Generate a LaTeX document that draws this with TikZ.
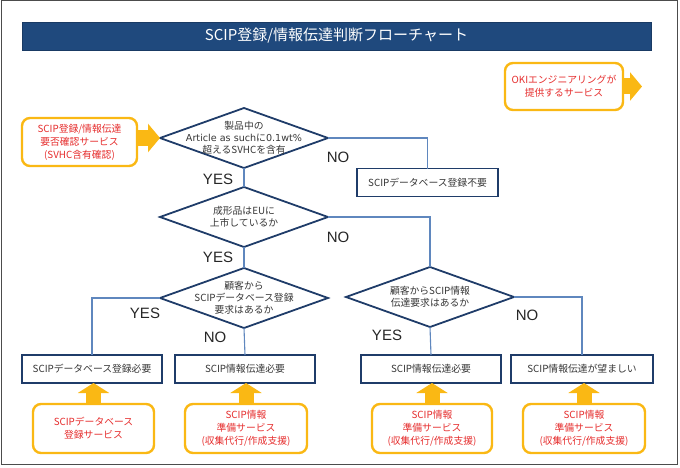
\documentclass[tikz,border=0pt]{standalone}
\usepackage{fontspec}
\setmainfont{Noto Sans CJK JP}
\newfontfamily\latinlbl{Liberation Sans}
\newfontfamily\widelatin{DejaVu Sans}
\usetikzlibrary{shapes.geometric,arrows.meta,calc}
\definecolor{titleblue}{RGB}{31,73,125}
\definecolor{darkblue}{RGB}{31,60,105}
\definecolor{linkblue}{RGB}{95,135,190}
\definecolor{gold}{RGB}{250,184,20}
\definecolor{svcred}{RGB}{230,45,45}
\definecolor{txtgray}{RGB}{55,55,55}
\begin{document}
\begin{tikzpicture}[x=1pt,y=-1pt,
  decision/.style={diamond,draw=darkblue,line width=1.8pt,fill=white,minimum width=168pt,minimum height=60pt,inner sep=0pt,outer sep=0pt},
  dtext/.style={align=center,font=\fontsize{9.8}{12.2}\selectfont,text=txtgray},
  result/.style={rectangle,draw=darkblue,line width=1.6pt,fill=white,minimum height=28pt,inner sep=0pt,outer sep=0pt,font=\fontsize{9.8}{11}\selectfont,text=txtgray},
  service/.style={rectangle,rounded corners=8pt,draw=gold,line width=2.4pt,fill=white,align=center,inner sep=0pt,outer sep=0pt,font=\fontsize{9.8}{13}\selectfont,text=svcred},
  link/.style={draw=linkblue,line width=1.1pt},
  yn/.style={font=\latinlbl\fontsize{15}{15}\selectfont,text=black!85},
  bigarrow/.style={draw=gold,line width=15pt,-{Triangle[length=10pt,width=31pt]}},
  sidearrow/.style={draw=gold,line width=16pt,-{Triangle[length=12pt,width=28pt]}}
]
\useasboundingbox (0,0) rectangle (680,468);
\draw[black!70,line width=1pt] (1,1) rectangle (677,464);
% title
\node[rectangle,fill=titleblue,draw=titleblue!80!black,line width=0.6pt,minimum width=629pt,minimum height=28pt,inner sep=0pt,text=white,font=\fontsize{15}{15}\selectfont] (title) at (336.5,36) {SCIP登録/情報伝達判断フローチャート};

% decisions
\node[decision,label={[dtext]center:製品中の\\{\widelatin\fontsize{9.6}{12}\selectfont Article as such}に{\widelatin\fontsize{9.6}{12}\selectfont 0.1wt\%}\\超えるSVHCを含有}] (d1) at (244,138) {};
\node[decision,label={[dtext]center:成形品はEUに\\上市しているか}] (d2) at (244,217) {};
\node[decision,label={[dtext]center:顧客から\\SCIPデータベース登録\\要求はあるか}] (d3) at (244,298) {};
\node[decision,label={[dtext]center:顧客からSCIP情報\\伝達要求はあるか}] (d4) at (430,297) {};

% results
\node[result,minimum width=141pt] (b0) at (427.5,182.5) {SCIPデータベース登録不要};
\node[result,minimum width=140pt] (b1) at (92,369) {SCIPデータベース登録必要};
\node[result,minimum width=140pt] (b2) at (245,369) {SCIP情報伝達必要};
\node[result,minimum width=140pt] (b3) at (431,369) {SCIP情報伝達必要};
\node[result,minimum width=142pt] (b4) at (582,369) {SCIP情報伝達が望ましい};

% connectors
\draw[link] (d1.east) -| (b0.north);
\draw[link] (d1.south) -- (d2.north);
\draw[link] (d2.east) -| (d4.north);
\draw[link] (d2.south) -- (d3.north);
\draw[link] (d3.west) -| (b1.north);
\draw[link] (d3.south) -- (b2.north);
\draw[link] (d4.south) -- (b3.north);
\draw[link] (d4.east) -| (b4.north);

% yes/no labels
\node[yn] (y1) at (218,179) {YES};
\node[yn] (n1) at (338,157) {NO};
\node[yn] (y2) at (218,257) {YES};
\node[yn] (n2) at (338,237) {NO};
\node[yn] (y3) at (145,313) {YES};
\node[yn] (n3) at (215,337) {NO};
\node[yn] (y4) at (387,335) {YES};
\node[yn] (n4) at (527,315) {NO};

% services
\node[service,minimum width=115pt,minimum height=48pt] (s0) at (79.5,142) {SCIP登録/情報伝達\\要否確認サービス\\(SVHC含有確認)};
\node[service,minimum width=118pt,minimum height=47pt] (st) at (564,86.5) {OKIエンジニアリングが\\提供するサービス};
\node[service,minimum width=121pt,minimum height=49pt] (s1) at (93.5,428.5) {SCIPデータベース\\登録サービス};
\node[service,minimum width=122pt,minimum height=49pt] (s2) at (246,428.5) {SCIP情報\\準備サービス\\(収集代行/作成支援)};
\node[service,minimum width=120pt,minimum height=49pt] (s3) at (432,428.5) {SCIP情報\\準備サービス\\(収集代行/作成支援)};
\node[service,minimum width=122pt,minimum height=49pt] (s4) at (584,428.5) {SCIP情報\\準備サービス\\(収集代行/作成支援)};
\coordinate (sttip) at (642,86.5);

% service arrows
\draw[sidearrow] (s0.east |- d1.west) -- (d1.west);
\draw[sidearrow] (st.east) -- (sttip);
\draw[bigarrow] (s1.north) -- (s1.north |- b1.south);
\draw[bigarrow] (s2.north) -- (s2.north |- b2.south);
\draw[bigarrow] (s3.north) -- (s3.north |- b3.south);
\draw[bigarrow] (s4.north) -- (s4.north |- b4.south);
\end{tikzpicture}
\end{document}
